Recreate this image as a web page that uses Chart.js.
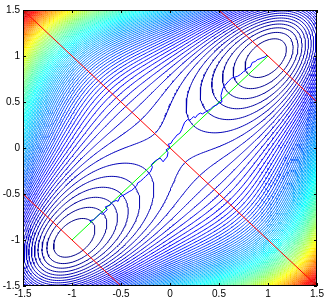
<!DOCTYPE html>
<html>
<head>
<meta charset="utf-8">
<script src="https://cdn.jsdelivr.net/npm/chart.js@4.4.1/dist/chart.umd.min.js"></script>
<style>
  html, body { margin: 0; padding: 0; background: #fff; }
  #wrap { width: 327px; height: 300px; }
</style>
</head>
<body>
<div id="wrap"><canvas id="chart" width="327" height="300"></canvas></div>
<script>
// Axis ranges and tick labels
const xTicks = [-1.5, -1, -0.5, 0, 0.5, 1, 1.5];
const yTicks = [-1.5, -1, -0.5, 0, 0.5, 1, 1.5];
const xLabels = ['-1.5', '-1', '-0.5', '0', '0.5', '1', '1.5'];
const yLabels = ['-1.5', '-1', '-0.5', '0', '0.5', '1', '1.5'];

// Double-well surface, minima at (-1,-1) and (1,1), saddle at the origin
const COUPLING_2  = 2;     // (x-y)^2
const COUPLING_4  = 0.15;  // (x-y)^4
const CROSS       = 0.5;   // (x^2-y^2)^2
const WALL        = 0.5;   // s^2 (s^2-1)^2, s = (x+y)/2
const LEVEL_START = 0.3;
const LEVEL_STEP  = 0.3;
const GRID_N      = 151;

// Red dividing lines x + y = -2, 0, 2 (start/end points)
const dividerX1 = [-1.5, -1.5, 0.5];
const dividerY1 = [-0.5,  1.5, 1.5];
const dividerX2 = [-0.5,  1.5, 1.5];
const dividerY2 = [-1.5, -1.5, 0.5];

// Green reaction coordinate
const diagX = [-1, 1];
const diagY = [-1, 1];

// Blue trajectory
const trajX = [-0.80, -0.82, -0.78, -0.75, -0.71, -0.69, -0.64, -0.66, -0.61, -0.59, -0.55, -0.53, -0.51,
  -0.47, -0.44, -0.41, -0.39, -0.36, -0.34, -0.33, -0.30, -0.27, -0.25, -0.22, -0.20, -0.18, -0.19, -0.15,
  -0.12, -0.10, -0.07, -0.05, -0.03, -0.02, -0.04, 0.00, -0.02, 0.01, 0.03, 0.05, 0.07, 0.10, 0.12, 0.13,
  0.15, 0.18, 0.20, 0.22, 0.24, 0.26, 0.28, 0.31, 0.33, 0.36, 0.39, 0.41, 0.44, 0.48, 0.50, 0.53, 0.52,
  0.54, 0.56, 0.60, 0.63, 0.66, 0.69, 0.72, 0.75, 0.77, 0.79, 0.82, 0.84, 0.87, 0.89, 0.92, 0.94, 0.97, 0.99];
const trajY = [-0.81, -0.79, -0.78, -0.75, -0.71, -0.72, -0.67, -0.64, -0.62, -0.59, -0.57, -0.58, -0.53,
  -0.51, -0.49, -0.47, -0.46, -0.43, -0.41, -0.38, -0.36, -0.33, -0.31, -0.28, -0.26, -0.21, -0.18, -0.14,
  -0.12, -0.11, -0.15, -0.12, -0.10, -0.05, -0.02, 0.01, 0.04, 0.05, 0.09, 0.11, 0.14, 0.16, 0.20, 0.23,
  0.28, 0.31, 0.30, 0.32, 0.34, 0.33, 0.36, 0.38, 0.37, 0.39, 0.41, 0.42, 0.45, 0.47, 0.49, 0.50, 0.57,
  0.65, 0.68, 0.73, 0.76, 0.77, 0.78, 0.80, 0.83, 0.84, 0.87, 0.88, 0.93, 0.94, 0.96, 0.97, 0.98, 0.99, 1.01];

function potential(x, y) {
  const d = x - y;
  const s = (x + y) / 2;
  return (x * x - 1) ** 2 + (y * y - 1) ** 2
    + COUPLING_2 * d * d + COUPLING_4 * d ** 4
    + CROSS * (x * x - y * y) ** 2
    + WALL * s * s * (s * s - 1) ** 2;
}

function jet(t) {
  const c = v => Math.round(255 * Math.max(0, Math.min(1, v)));
  return `rgb(${c(1.5 - Math.abs(4 * t - 3))},${c(1.5 - Math.abs(4 * t - 2))},${c(1.5 - Math.abs(4 * t - 1))})`;
}

// Grid of the surface
const gx = [], gz = [];
for (let i = 0; i < GRID_N; i++) gx.push(-1.5 + 3 * i / (GRID_N - 1));
let zMin = Infinity, zMax = -Infinity;
for (let j = 0; j < GRID_N; j++) {
  const row = [];
  for (let i = 0; i < GRID_N; i++) {
    const v = potential(gx[i], gx[j]);
    row.push(v);
    zMin = Math.min(zMin, v);
    zMax = Math.max(zMax, v);
  }
  gz.push(row);
}

const levels = [];
for (let l = LEVEL_START; l < zMax; l += LEVEL_STEP) levels.push(l);

const CASES = [
  [], [[3, 0]], [[0, 1]], [[3, 1]], [[1, 2]], null, [[0, 2]], [[3, 2]],
  [[2, 3]], [[0, 2]], null, [[1, 2]], [[1, 3]], [[0, 1]], [[3, 0]], []
];

// Marching squares, segments chained into polylines
function contourLine(level) {
  const pos = new Map();
  const adj = new Map();
  const segs = [];
  const edgePoint = (i, j, e) => {
    let key, xa, ya, va, xb, yb, vb;
    if (e === 0)      { key = (j * GRID_N + i) * 2;           xa = gx[i]; ya = gx[j]; va = gz[j][i]; xb = gx[i + 1]; yb = gx[j]; vb = gz[j][i + 1]; }
    else if (e === 2) { key = ((j + 1) * GRID_N + i) * 2;     xa = gx[i]; ya = gx[j + 1]; va = gz[j + 1][i]; xb = gx[i + 1]; yb = gx[j + 1]; vb = gz[j + 1][i + 1]; }
    else if (e === 3) { key = (j * GRID_N + i) * 2 + 1;       xa = gx[i]; ya = gx[j]; va = gz[j][i]; xb = gx[i]; yb = gx[j + 1]; vb = gz[j + 1][i]; }
    else              { key = (j * GRID_N + i + 1) * 2 + 1;   xa = gx[i + 1]; ya = gx[j]; va = gz[j][i + 1]; xb = gx[i + 1]; yb = gx[j + 1]; vb = gz[j + 1][i + 1]; }
    if (!pos.has(key)) {
      const t = (level - va) / (vb - va);
      pos.set(key, { x: xa + t * (xb - xa), y: ya + t * (yb - ya) });
    }
    return key;
  };
  for (let j = 0; j < GRID_N - 1; j++) {
    for (let i = 0; i < GRID_N - 1; i++) {
      const v00 = gz[j][i], v10 = gz[j][i + 1], v11 = gz[j + 1][i + 1], v01 = gz[j + 1][i];
      const idx = (v00 > level ? 1 : 0) | (v10 > level ? 2 : 0) | (v11 > level ? 4 : 0) | (v01 > level ? 8 : 0);
      if (idx === 0 || idx === 15) continue;
      let pairs = CASES[idx];
      if (!pairs) {
        const centerHigh = (v00 + v10 + v11 + v01) / 4 > level;
        if (idx === 5) pairs = centerHigh ? [[0, 1], [2, 3]] : [[3, 0], [1, 2]];
        else pairs = centerHigh ? [[3, 0], [1, 2]] : [[0, 1], [2, 3]];
      }
      for (const [ea, eb] of pairs) {
        const a = edgePoint(i, j, ea), b = edgePoint(i, j, eb);
        const s = segs.length;
        segs.push([a, b]);
        if (!adj.has(a)) adj.set(a, []);
        if (!adj.has(b)) adj.set(b, []);
        adj.get(a).push(s);
        adj.get(b).push(s);
      }
    }
  }
  const used = new Uint8Array(segs.length);
  const extend = line => {
    for (;;) {
      const end = line[line.length - 1];
      const next = adj.get(end).find(k => !used[k]);
      if (next === undefined) break;
      used[next] = 1;
      const [a, b] = segs[next];
      line.push(a === end ? b : a);
    }
  };
  const out = [];
  for (let s = 0; s < segs.length; s++) {
    if (used[s]) continue;
    used[s] = 1;
    const line = [segs[s][0], segs[s][1]];
    extend(line);
    line.reverse();
    extend(line);
    for (const k of line) out.push(pos.get(k));
    out.push({ x: NaN, y: null });
  }
  return out;
}

const datasets = [];

datasets.push({
  data: trajX.map((x, i) => ({ x, y: trajY[i] })),
  borderColor: '#0000ff', borderWidth: 1, showLine: true, pointRadius: 0, order: 0,
});
datasets.push({
  data: diagX.map((x, i) => ({ x, y: diagY[i] })),
  borderColor: '#00ff00', borderWidth: 1, showLine: true, pointRadius: 0, order: 1,
});
dividerX1.forEach((x, i) => {
  datasets.push({
    data: [{ x, y: dividerY1[i] }, { x: dividerX2[i], y: dividerY2[i] }],
    borderColor: '#ff0000', borderWidth: 1, showLine: true, pointRadius: 0, order: 2,
  });
});
for (const level of levels) {
  datasets.push({
    data: contourLine(level),
    borderColor: jet((level - zMin) / (zMax - zMin)),
    borderWidth: 1, showLine: true, pointRadius: 0, order: 10,
    spanGaps: false,
  });
}

const framePlugin = {
  id: 'frame',
  afterDatasetsDraw(chart) {
    const { ctx, chartArea: a, scales } = chart;
    ctx.save();
    ctx.strokeStyle = '#000';
    ctx.lineWidth = 1;
    ctx.strokeRect(a.left + 0.5, a.top + 0.5, a.right - a.left - 1, a.bottom - a.top - 1);
    ctx.beginPath();
    for (const v of xTicks) {
      const p = Math.round(scales.x.getPixelForValue(v)) + 0.5;
      ctx.moveTo(p, a.bottom); ctx.lineTo(p, a.bottom - 3);
      ctx.moveTo(p, a.top);    ctx.lineTo(p, a.top + 3);
    }
    for (const v of yTicks) {
      const p = Math.round(scales.y.getPixelForValue(v)) + 0.5;
      ctx.moveTo(a.left, p);  ctx.lineTo(a.left + 3, p);
      ctx.moveTo(a.right, p); ctx.lineTo(a.right - 3, p);
    }
    ctx.stroke();
    ctx.restore();
  },
};

const tickFont = { family: '"Liberation Sans", Arial, Helvetica, sans-serif', size: 10 };

new Chart(document.getElementById('chart'), {
  type: 'scatter',
  data: { datasets },
  options: {
    responsive: false,
    devicePixelRatio: 1,
    animation: false,
    events: [],
    layout: { padding: { top: 10, right: 10, left: 0, bottom: 0 } },
    plugins: { legend: { display: false }, tooltip: { enabled: false } },
    scales: {
      x: {
        type: 'linear', min: -1.5, max: 1.5,
        afterBuildTicks: s => { s.ticks = xTicks.map(value => ({ value })); },
        afterFit: s => { s.height = 14; },
        grid: { display: false, drawTicks: false },
        border: { display: false },
        ticks: {
          autoSkip: false, maxRotation: 0, padding: 2, color: '#000', font: tickFont,
          callback: v => xLabels[xTicks.indexOf(v)],
        },
      },
      y: {
        type: 'linear', min: -1.5, max: 1.5,
        afterBuildTicks: s => { s.ticks = yTicks.map(value => ({ value })); },
        afterFit: s => { s.width = 23; },
        grid: { display: false, drawTicks: false },
        border: { display: false },
        ticks: {
          autoSkip: false, padding: 3, color: '#000', font: tickFont,
          callback: v => yLabels[yTicks.indexOf(v)],
        },
      },
    },
  },
  plugins: [framePlugin],
});
</script>
</body>
</html>
